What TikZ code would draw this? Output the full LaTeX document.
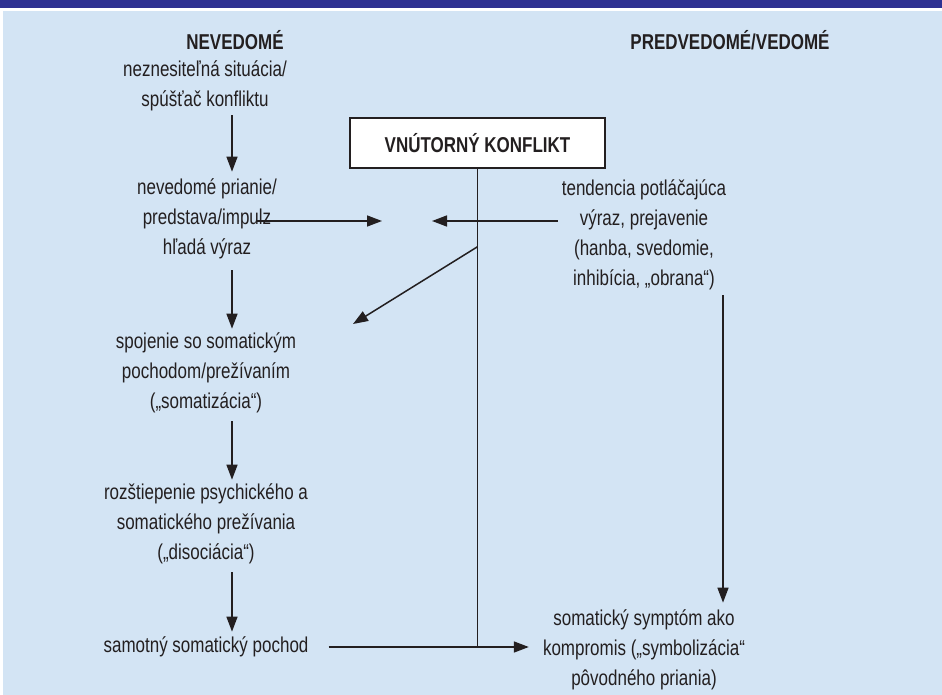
\documentclass[tikz,border=0pt]{standalone}
\usepackage{fontspec}
\setmainfont{Liberation Sans}[FakeStretch=0.79]
\usepackage{xcolor}
\usepackage{tikz}
\usetikzlibrary{arrows.meta}

\definecolor{bandblue}{RGB}{46,49,146}
\definecolor{paleblue}{RGB}{211,228,244}
\definecolor{inkgray}{RGB}{35,31,32}

\tikzset{
    txt/.style={inner sep=0pt, align=center, text=inkgray,
        font=\fontsize{21.5}{30}\selectfont},
    hdr/.style={txt, font=\fontsize{21.5}{30}\selectfont\bfseries},
    conflictbox/.style={hdr, draw=inkgray, fill=white, line width=1.5pt,
        minimum width=255pt, minimum height=50pt},
    link/.style={draw=inkgray, line width=1.5pt},
    arr/.style={link, -{Triangle[length=15pt, width=11pt]}}
}

\begin{document}
\begin{tikzpicture}[x=1pt, y=-1pt]
\useasboundingbox (0,0) rectangle (942,695);
\fill[white] (0,0) rectangle (942,695);
\fill[bandblue] (0,0) rectangle (942,8);
\fill[paleblue] (3,11) rectangle (942,695);

\node[hdr] (uncon) at (235,40) {NEVEDOMÉ};
\node[hdr] (precon) at (730,40) {PREDVEDOMÉ/VEDOMÉ};

\node[txt] (trigger) at (205,86) {neznesiteľná situácia/\\spúšťač konfliktu};
\node[txt] (wish) at (207,219) {nevedomé prianie/\\predstava/impulz\\hľadá výraz};
\node[txt] (somat) at (206,373) {spojenie so somatickým\\pochodom/prežívaním\\(„somatizácia“)};
\node[txt] (dissoc) at (206,524) {rozštiepenie psychického a\\somatického prežívania\\(„disociácia“)};
\node[txt] (process) at (206,647) {samotný somatický pochod};

\node[conflictbox] (conf) at (477.5,143) {VNÚTORNÝ KONFLIKT};

\node[txt] (supp) at (644,235) {tendencia potláčajúca\\výraz, prejavenie\\(hanba, svedomie,\\inhibícia, „obrana“)};
\node[txt] (symptom) at (644,650) {somatický symptóm ako\\kompromis („symbolizácia“\\pôvodného priania)};

\coordinate (lcol) at (232,0);
\coordinate (rcol) at (723,0);
\coordinate (gapL) at (382,221);
\coordinate (gapR) at (432,221);
\coordinate (soma) at (353,324);
\path (conf.south) ++(0,78) coordinate (split);

\draw[arr, shorten <=4pt, shorten >=7pt] (trigger.south -| lcol) -- (wish.north -| lcol);
\draw[arr, shorten <=11pt, shorten >=4pt] (wish.south -| lcol) -- (somat.north -| lcol);
\draw[arr, shorten <=8pt, shorten >=4pt] (somat.south -| lcol) -- (dissoc.north -| lcol);
\draw[arr, shorten <=8pt, shorten >=5pt] (dissoc.south -| lcol) -- (process.north -| lcol);
\draw[arr, shorten <=5pt, shorten >=7pt] (supp.south -| rcol) -- (symptom.north -| rcol);

\draw[arr] (wish.east |- gapL) ++(-20,0) -- (gapL);
\draw[arr, shorten <=4pt] (supp.west |- gapR) -- (gapR);

\draw[link] (conf.south) -- (conf.south |- process);
\draw[arr] (split) -- (soma);
\draw[arr, shorten <=20pt, shorten >=14pt] (process.east) -- (symptom.west |- process);
\end{tikzpicture}
\end{document}
